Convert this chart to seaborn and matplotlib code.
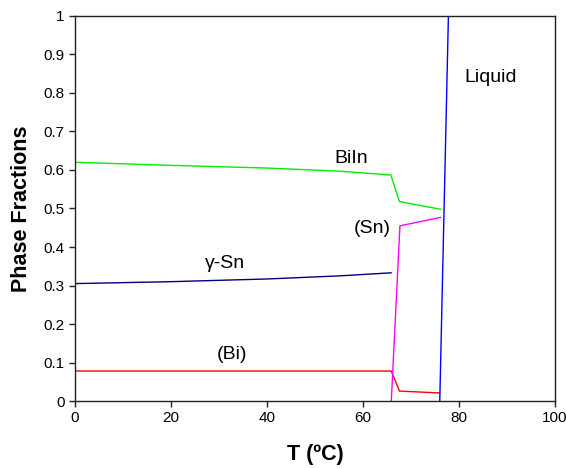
import numpy as np
import pandas as pd
import matplotlib
matplotlib.use("Agg")
import matplotlib.pyplot as plt
import seaborn as sns
from matplotlib.ticker import FuncFormatter

# phase fraction curves
biin_T = [0, 20, 40, 55, 65.8, 67.6, 76.2]
biin_f = [0.620, 0.612, 0.605, 0.597, 0.587, 0.518, 0.498]

gsn_T = [0, 20, 40, 55, 65.9]
gsn_f = [0.305, 0.310, 0.317, 0.325, 0.333]

bi_T = [0, 20, 40, 65.9, 67.6, 76.0]
bi_f = [0.078, 0.078, 0.078, 0.078, 0.026, 0.021]

sn_T = [65.9, 67.7, 76.2]
sn_f = [0.0, 0.455, 0.477]

liq_T = [76.0, 77.8]
liq_f = [0.0, 1.0]

labels = ["BiIn", "γ-Sn", "(Bi)", "(Sn)", "Liquid"]
colors = ["#00ee00", "#000080", "#ff0000", "#ff00ff", "#0000ff"]

sns.set_style("white")
plt.rcParams["font.family"] = ["Liberation Sans", "DejaVu Sans"]
plt.rcParams["text.color"] = "black"
plt.rcParams["axes.labelcolor"] = "black"
plt.rcParams["xtick.color"] = "black"
plt.rcParams["ytick.color"] = "black"

fig = plt.figure(figsize=(5.66, 4.68), dpi=100)
ax = fig.add_axes([0.1325, 0.143, 0.848, 0.823])

series = [(biin_T, biin_f), (gsn_T, gsn_f), (bi_T, bi_f), (sn_T, sn_f), (liq_T, liq_f)]
for (T, f), c in zip(series, colors):
    sns.lineplot(x=T, y=f, color=c, linewidth=1.0, ax=ax, sort=False)

ax.set_xlim(0, 100)
ax.set_ylim(0, 1)
ax.set_xticks(np.arange(0, 101, 20))
ax.set_yticks(np.arange(0, 1.01, 0.1))
ax.yaxis.set_major_formatter(FuncFormatter(lambda v, p: "%g" % round(v, 1)))
ax.tick_params(axis="both", direction="out", length=4, width=1, labelsize=11,
               left=True, bottom=True, top=False, right=False, color="#222222")
for s in ax.spines.values():
    s.set_color("#222222")
    s.set_linewidth(1.0)

ax.set_xlabel("T (ºC)", fontsize=15.5, fontweight="bold", labelpad=13)
ax.set_ylabel("Phase Fractions", fontsize=15.5, fontweight="bold", labelpad=8)

fs = 14
ax.text(57.5, 0.63, labels[0], fontsize=fs, ha="center", va="center")
ax.text(31.2, 0.356, labels[1], fontsize=fs, ha="center", va="center")
ax.text(32.7, 0.12, labels[2], fontsize=fs, ha="center", va="center")
ax.text(62, 0.447, labels[3], fontsize=fs, ha="center", va="center")
ax.text(86.5, 0.841, labels[4], fontsize=fs, ha="center", va="center")

fig.savefig("out.png", dpi=100)
